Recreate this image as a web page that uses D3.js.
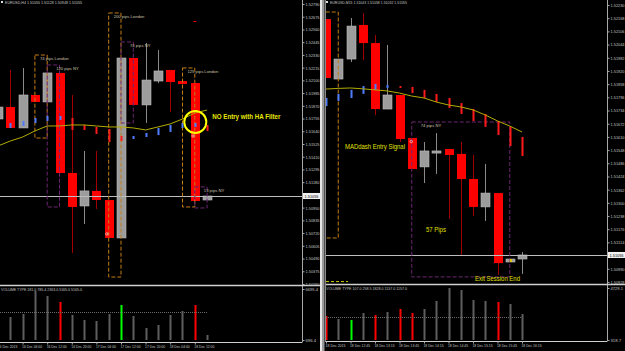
<!DOCTYPE html>
<html><head><meta charset="utf-8">
<script src="https://cdn.jsdelivr.net/npm/d3@7/dist/d3.min.js"></script>
<style>
html,body{margin:0;padding:0;background:#000;overflow:hidden}
svg{display:block}
text{font-family:"Liberation Sans",Arial,sans-serif}
</style></head>
<body><svg id="c" width="625" height="351"></svg>
<script>
// ---------------- LEFT CHART: EURUSD H4 ----------------
const leftTimes = ["15 Dec 20:00","16 Dec 00:00","16 Dec 04:00","16 Dec 08:00","16 Dec 12:00","16 Dec 16:00","16 Dec 20:00","17 Dec 00:00","17 Dec 04:00","17 Dec 08:00","17 Dec 12:00","17 Dec 16:00","17 Dec 20:00","18 Dec 00:00","18 Dec 04:00","18 Dec 08:00","18 Dec 12:00","18 Dec 16:00"];
const leftOpen  = [1.51751,1.51859,1.51670,1.51968,1.51905,1.52167,1.51263,1.50965,1.51101,1.51019,1.50676,1.52302,1.51878,1.52094,1.52194,1.52094,1.52076,1.51019];
const leftHigh  = [1.51859,1.52194,1.52212,1.51968,1.52167,1.52167,1.51968,1.51462,1.51462,1.51019,1.52302,1.52302,1.52438,1.52374,1.52194,1.52094,1.52076,1.51055];
const leftLow   = [1.51751,1.51670,1.51670,1.51905,1.51905,1.51263,1.50540,1.50802,1.50938,1.50676,1.50676,1.51878,1.51715,1.52076,1.51814,1.52067,1.51010,1.51019];
const leftClose = [1.51859,1.51670,1.51968,1.51905,1.52167,1.51263,1.50956,1.51101,1.51019,1.50676,1.52302,1.51878,1.52103,1.52185,1.52085,1.52067,1.51010,1.51055];
const leftMA    = [1.51507,1.51552,1.51588,1.51643,1.51688,1.51688,1.51697,1.51697,1.51688,1.51679,1.51679,1.51670,1.51652,1.51679,1.51706,1.51751,1.51805,1.51832];
const leftHATop = [null,1.51715,1.51733,1.51760,1.51778,1.51778,1.51760,1.51697,1.51679,1.51661,1.51597,1.51597,1.51625,1.51670,1.51697,1.51715,1.51715,1.51697];
const leftHABot = [null,1.51670,1.51688,1.51715,1.51733,1.51742,1.51652,1.51652,1.51616,1.51543,1.51552,1.51570,1.51588,1.51606,1.51634,1.51670,1.51679,1.51643];
const leftHADir = [null,"up","up","up","up","up","dn","dn","dn","dn","dn","up","up","up","up","up","up","dn"];
const leftVolume = [null,3400,3760,6460,5870,5170,3640,3050,2930,3760,4810,3520,2110,2460,3640,4110,4810,1290];
const leftVolType = ["n","n","n","n","n","r","n","n","n","n","g","n","n","n","n","n","r","n"];
const leftVolAvg = 3990;
const leftVolRange = [696.4, 6695.4];
const leftPriceTicks = [1.52790,1.52675,1.52560,1.52445,1.52330,1.52215,1.52100,1.51985,1.51870,1.51755,1.51640,1.51525,1.51410,1.51295,1.51180,1.51065,1.50950,1.50835,1.50720,1.50605,1.50490,1.50375,1.50260];
const leftTimeTickIdx = [0,2,4,6,8,10,12,14,16];
const leftTimeTickLabels = ["15 Dec 2015","16 Dec 04:00","16 Dec 12:00","16 Dec 20:00","17 Dec 04:00","17 Dec 12:00","17 Dec 20:00","18 Dec 04:00","18 Dec 12:00"];
const leftSessStart = [3,4,9,10,15,16];
const leftSessEnd   = [4,5,10,11,16,17];
const leftSessHigh  = [1.52329,1.52239,1.52709,1.52447,1.52212,1.51137];
const leftSessLow   = [1.51579,1.50956,1.50323,1.51715,1.50956,1.50947];
const leftSessKind  = ["London","NY","London","NY","London","NY"];
const leftSessLabel = ["74 pips London","120 pips NY","200 pips London","74 pips NY","125 pips London","13 pips NY"];
const leftHeader = "EURUSD,H4  1.51055 1.51128 1.50948 1.51055";
const leftVolHeader = "VOLUME TYPE 181.0 785.4 2363.0 5165.0 5165.0";

// ---------------- RIGHT CHART: EURUSD M15 ----------------
const rightTimes = ["18 Dec 12:15","18 Dec 12:30","18 Dec 12:45","18 Dec 13:00","18 Dec 13:15","18 Dec 13:30","18 Dec 13:45","18 Dec 14:00","18 Dec 14:15","18 Dec 14:30","18 Dec 14:45","18 Dec 15:00","18 Dec 15:15","18 Dec 15:30","18 Dec 15:45","18 Dec 16:00","18 Dec 16:15"];
const rightOpen  = [1.52164,1.51882,1.51976,1.52136,1.52051,1.51741,1.51807,1.51605,1.51469,1.51534,1.51553,1.51530,1.51412,1.51281,1.51346,1.51022,1.51036];
const rightHigh  = [1.52164,1.51976,1.52169,1.52192,1.52089,1.52042,1.51807,1.51605,1.51586,1.51628,1.51553,1.51586,1.51525,1.51483,1.51346,1.51036,1.51069];
const rightLow   = [1.51887,1.51882,1.51962,1.51971,1.51713,1.51741,1.51586,1.51459,1.51393,1.51436,1.51224,1.51055,1.51238,1.51215,1.50961,1.51022,1.50966];
const rightClose = [1.51887,1.51976,1.52131,1.52051,1.51741,1.51807,1.51600,1.51459,1.51544,1.51544,1.51525,1.51412,1.51281,1.51346,1.51017,1.51036,1.51055];
const rightMA    = [1.51835,1.51838,1.51840,1.51836,1.51831,1.51826,1.51816,1.51802,1.51793,1.51774,1.51760,1.51751,1.51737,1.51713,1.51685,1.51661,1.51633];
const rightHATop = [1.51793,1.51812,1.51831,1.51849,1.51859,1.51854,1.51849,1.51845,1.51831,1.51812,1.51793,1.51769,1.51741,1.51718,1.51685,1.51657,1.51610];
const rightHABot = [1.51755,1.51779,1.51793,1.51812,1.51831,1.51840,1.51840,1.51816,1.51793,1.51774,1.51746,1.51718,1.51685,1.51657,1.51619,1.51567,1.51520];
const rightHADir = ["up","up","up","up","up","up","dn","dn","dn","dn","dn","dn","dn","dn","dn","dn","dn"];
const rightVolume = [2350,2100,2020,2610,2440,2690,2950,2610,2950,3630,4730,4560,3710,3630,3540,3370,2520];
const rightVolType = ["r","n","g","n","r","n","r","r","n","n","n","n","n","n","r","n","n"];
const rightVolAvg = 2230;
const rightVolRange = [318.7, 4729.1];
const rightPriceTicks = [1.52230,1.52168,1.52106,1.52044,1.51982,1.51920,1.51858,1.51796,1.51734,1.51672,1.51610,1.51548,1.51486,1.51424,1.51362,1.51300,1.51238,1.51176,1.51114,1.51052,1.50990,1.50928];
const rightTimeTickIdx = [0,2,4,6,8,10,12,14,16];
const rightTimeTickLabels = ["18 Dec 2015","18 Dec 12:45","18 Dec 13:15","18 Dec 13:45","18 Dec 14:15","18 Dec 14:45","18 Dec 15:15","18 Dec 15:45","18 Dec 16:15"];
const rightSessStart = [-1,7];
const rightSessEnd   = [1,15];
const rightSessHigh  = [1.52197,1.51680];
const rightSessLow   = [1.51135,1.50952];
const rightSessKind  = ["London","NY"];
const rightSessLabel = ["","74 pips NY"];
const rightHeader = "EURUSD,M15  1.51043 1.51058 1.51032 1.51055";
const rightVolHeader = "VOLUME TYPE 107.0 258.5 1828.0 1157.0 1157.0";

const currentPrice = 1.51055;

// ---------------- DRAWING ----------------
const svg = d3.select("#c");
const defs = svg.append("defs");
svg.append("rect").attr("width",625).attr("height",351).attr("fill","#000");

const C = {up:"#9c9c9c", upStroke:"#bdbdbd", dn:"#ff0000", upWick:"#8a8a8a", dnWick:"#a00000",
  haUp:"#4f7dff", haDn:"#ff1a1a", ma:"#b4ac00", london:"#c47e14", ny:"#6c2672",
  axis:"#a8a8a8", txt:"#c4c4c4", sep:"#cfcfcf", volN:"#5e5e5e", volR:"#ff0000", volG:"#00ff00", lbl:"#cfc4ac"};

function fitText(sel, w){ return sel.attr("textLength", w).attr("lengthAdjust","spacingAndGlyphs"); }

function drawPanel(o){
  const n = o.open.length;
  const x = d3.scaleLinear().domain([0,n-1]).range(o.xRange);
  const y = d3.scaleLinear().domain(o.priceDomain).range(o.priceRange);
  const v = d3.scaleLinear().domain(o.volRange).range([o.volBot, o.volTop]).clamp(true);
  const idx = d3.range(n);
  const g = svg.append("g");

  defs.append("clipPath").attr("id",o.id+"m").append("rect")
    .attr("x",o.x0).attr("y",0).attr("width",o.x1-o.x0).attr("height",o.mainBot);
  defs.append("clipPath").attr("id",o.id+"v").append("rect")
    .attr("x",o.x0).attr("y",o.sepY+1).attr("width",o.x1-o.x0).attr("height",o.volBot-o.sepY);

  const m = g.append("g").attr("clip-path",`url(#${o.id}m)`);
  const bw = 9;
  const isUp = i => o.close[i] >= o.open[i];

  m.append("g").selectAll("line").data(idx).join("line")
    .attr("x1",i=>Math.round(x(i))+0.5).attr("x2",i=>Math.round(x(i))+0.5)
    .attr("y1",i=>y(o.high[i])).attr("y2",i=>y(o.low[i]))
    .attr("stroke",i=>isUp(i)?C.upWick:C.dnWick).attr("stroke-width",1);
  m.append("g").selectAll("rect").data(idx).join("rect")
    .attr("x",i=>Math.round(x(i))+0.5-bw/2).attr("width",bw)
    .attr("y",i=>y(Math.max(o.open[i],o.close[i])))
    .attr("height",i=>Math.max(1.5,Math.abs(y(o.open[i])-y(o.close[i]))))
    .attr("fill",i=>isUp(i)?C.up:C.dn)
    .attr("stroke",i=>isUp(i)?C.upStroke:"none").attr("stroke-width",0.6);

  m.append("line").attr("x1",o.x0).attr("x2",o.x1)
    .attr("y1",Math.round(y(currentPrice))+0.5).attr("y2",Math.round(y(currentPrice))+0.5)
    .attr("stroke","#bdbdbd").attr("stroke-width",1);

  const sIdx = d3.range(o.sessStart.length);
  m.append("g").selectAll("rect").data(sIdx).join("rect")
    .attr("x",i=>x(o.sessStart[i])).attr("width",i=>x(o.sessEnd[i])-x(o.sessStart[i]))
    .attr("y",i=>y(o.sessHigh[i])).attr("height",i=>y(o.sessLow[i])-y(o.sessHigh[i]))
    .attr("fill","none").attr("stroke",i=>o.sessKind[i]==="London"?C.london:C.ny)
    .attr("stroke-width",1).attr("stroke-dasharray","4,2");
  m.append("g").selectAll("text").data(sIdx.filter(i=>o.sessLabel[i])).join("text")
    .attr("x",i=>x(o.sessStart[i])+(o.sessKind[i]==="London"?5:9))
    .attr("y",i=>y(o.sessHigh[i])+4.6)
    .attr("font-size",4.4).attr("fill",C.lbl)
    .text(i=>o.sessLabel[i])
    .each(function(i){ fitText(d3.select(this), o.sessLabel[i].length*2.05); });

  m.append("g").selectAll("rect").data(idx.filter(i=>o.haTop[i]!=null)).join("rect")
    .attr("x",i=>Math.round(x(i))-0.5).attr("width",2)
    .attr("y",i=>y(o.haTop[i])).attr("height",i=>Math.max(1.5,y(o.haBot[i])-y(o.haTop[i])))
    .attr("fill",i=>o.haDir[i]==="up"?C.haUp:C.haDn);

  m.append("path").datum(idx)
    .attr("d",d3.line().x(i=>x(i)).y(i=>y(o.ma[i])))
    .attr("fill","none").attr("stroke",C.ma).attr("stroke-width",1);

  o.extra && o.extra(m, x, y);

  const vg = g.append("g").attr("clip-path",`url(#${o.id}v)`);
  vg.selectAll("rect").data(idx.filter(i=>o.vol[i]!=null)).join("rect")
    .attr("x",i=>Math.round(x(i))-0.5).attr("width",2)
    .attr("y",i=>v(o.vol[i])).attr("height",i=>o.volBot-v(o.vol[i]))
    .attr("fill",i=>o.volType[i]==="r"?C.volR:o.volType[i]==="g"?C.volG:C.volN);
  vg.append("line").attr("x1",x(0)).attr("x2",x(n-1))
    .attr("y1",Math.round(v(o.volAvg))+0.5).attr("y2",Math.round(v(o.volAvg))+0.5)
    .attr("stroke","#6a6a6a").attr("stroke-dasharray","1,1");
  g.append("text").attr("x",o.x0+1).attr("y",o.sepY+5.5).attr("font-size",4.4).attr("fill",C.txt)
    .text(o.volHeader).call(fitText, 81);

  g.append("line").attr("x1",o.x1+0.5).attr("x2",o.x1+0.5).attr("y1",0).attr("y2",o.bottomY)
    .attr("stroke",C.axis);
  g.append("line").attr("x1",o.x0).attr("x2",o.x1+18).attr("y1",o.sepY).attr("y2",o.sepY)
    .attr("stroke",C.sep).attr("stroke-width",1.5);
  g.append("line").attr("x1",o.x0).attr("x2",o.x1).attr("y1",o.bottomY).attr("y2",o.bottomY)
    .attr("stroke",C.sep).attr("stroke-width",1);

  const pa = g.append("g").attr("transform",`translate(${o.x1+0.5},0)`)
    .call(d3.axisRight(y).tickValues(o.priceTicks).tickFormat(d3.format(".5f")).tickSize(2).tickPadding(1).tickSizeOuter(0));
  pa.select(".domain").remove();
  pa.selectAll("line").attr("stroke",C.axis);
  pa.selectAll("text").attr("fill",C.txt).attr("font-size",4.4).attr("font-family","Liberation Sans").call(fitText,14);

  const cy = y(currentPrice);
  g.append("rect").attr("x",o.x1+1).attr("y",cy-3).attr("width",17).attr("height",6).attr("fill","#f2f2f2");
  g.append("text").attr("x",o.x1+2.5).attr("y",cy+1.8).attr("font-size",4.4).attr("fill","#000")
    .text(d3.format(".5f")(currentPrice)).call(fitText,14);

  const va = g.append("g").attr("transform",`translate(${o.x1+0.5},0)`)
    .call(d3.axisRight(v).tickValues(o.volRange).tickFormat(d3.format(".1f")).tickSize(2).tickPadding(1).tickSizeOuter(0));
  va.select(".domain").remove();
  va.selectAll("line").attr("stroke",C.axis);
  va.selectAll("text").attr("fill",C.txt).attr("font-size",4.4).attr("font-family","Liberation Sans")
    .each(function(){ const t=d3.select(this); fitText(t, t.text().length*2.1); });

  const ta = g.append("g").attr("transform",`translate(0,${o.bottomY})`)
    .call(d3.axisBottom(x).tickValues(o.timeTickIdx).tickFormat((d,k)=>o.timeTickLabels[k]).tickSize(2).tickPadding(0).tickSizeOuter(0));
  ta.select(".domain").remove();
  ta.selectAll("line").attr("stroke",C.axis);
  ta.selectAll("text").attr("fill",C.txt).attr("font-size",4.4).attr("font-family","Liberation Sans")
    .attr("text-anchor","start").attr("x",-1).call(fitText,20);

  g.append("rect").attr("x",o.x0+1).attr("y",1).attr("width",2).attr("height",2).attr("fill","#ddd");
  g.append("text").attr("x",o.x0+5).attr("y",3.8).attr("font-size",4.4).attr("fill",C.txt)
    .text(o.header).call(fitText,77);
  return {x,y};
}

drawPanel({
  id:"L", x0:0, x1:302, xRange:[-2,207.1], priceDomain:[1.50260,1.52790], priceRange:[284,4],
  mainBot:284, sepY:285.5, volTop:289, volBot:340, bottomY:342.5,
  open:leftOpen, high:leftHigh, low:leftLow, close:leftClose, ma:leftMA,
  haTop:leftHATop, haBot:leftHABot, haDir:leftHADir,
  vol:leftVolume, volType:leftVolType, volAvg:leftVolAvg, volRange:leftVolRange,
  priceTicks:leftPriceTicks, timeTickIdx:leftTimeTickIdx, timeTickLabels:leftTimeTickLabels,
  sessStart:leftSessStart, sessEnd:leftSessEnd, sessHigh:leftSessHigh, sessLow:leftSessLow,
  sessKind:leftSessKind, sessLabel:leftSessLabel, header:leftHeader, volHeader:leftVolHeader,
  extra:(m,x,y)=>{
    m.append("text").attr("x",x(-0.5)).attr("y",y(1.52430)).attr("text-anchor","end")
      .attr("font-size",4.4).attr("fill",C.lbl).text("pips NY");
    m.append("rect").attr("x",x(16)-1.5).attr("y",y(1.52636)).attr("width",3).attr("height",1).attr("fill","#ff0000");
    [[15.85,1.51597],[8.85,1.50712]].forEach(p=>{
      m.append("circle").attr("cx",x(p[0])).attr("cy",y(p[1])).attr("r",1.2)
        .attr("fill","none").attr("stroke","#fff").attr("stroke-width",0.6);
    });
    m.append("circle").attr("cx",x(16)+0.5).attr("cy",y(1.51724)).attr("r",11)
      .attr("fill","none").attr("stroke","#ffff00").attr("stroke-width",2);
    m.append("text").attr("x",x(16)+17.5).attr("y",y(1.51755)).attr("font-size",7).attr("font-weight","bold")
      .attr("fill","#e8e800").text("NO Entry with HA Filter").call(fitText,68);
  }
});

drawPanel({
  id:"R", x0:325, x1:607, xRange:[326,522], priceDomain:[1.50928,1.52230], priceRange:[282,5],
  mainBot:283.5, sepY:284.5, volTop:288, volBot:340, bottomY:341.5,
  open:rightOpen, high:rightHigh, low:rightLow, close:rightClose, ma:rightMA,
  haTop:rightHATop, haBot:rightHABot, haDir:rightHADir,
  vol:rightVolume, volType:rightVolType, volAvg:rightVolAvg, volRange:rightVolRange,
  priceTicks:rightPriceTicks, timeTickIdx:rightTimeTickIdx, timeTickLabels:rightTimeTickLabels,
  sessStart:rightSessStart, sessEnd:rightSessEnd, sessHigh:rightSessHigh, sessLow:rightSessLow,
  sessKind:rightSessKind, sessLabel:rightSessLabel, header:rightHeader, volHeader:rightVolHeader,
  extra:(m,x,y)=>{
    m.append("circle").attr("cx",x(7)-0.5).attr("cy",y(1.51588)).attr("r",1.2)
      .attr("fill","none").attr("stroke","#fff").attr("stroke-width",0.6);
    m.append("rect").attr("x",x(15)).attr("y",y(1.51036)).attr("width",2).attr("height",3).attr("fill","#e8d000");
    m.append("line").attr("x1",x(0)).attr("x2",x(1.8)).attr("y1",y(1.50930)).attr("y2",y(1.50930))
      .attr("stroke","#c8c800").attr("stroke-dasharray","3,2");
    m.append("text").attr("x",x(1.55)).attr("y",y(1.51551)).attr("font-size",6.5)
      .attr("fill","#e0e000").text("MADdash Entry Signal").call(fitText,60);
    m.append("text").attr("x",x(8.16)).attr("y",y(1.51163)).attr("font-size",6.5)
      .attr("fill","#e0e000").text("57 Pips").call(fitText,20);
    m.append("text").attr("x",x(12.16)).attr("y",y(1.50935)).attr("font-size",6.5)
      .attr("fill","#e0e000").text("Exit Session End").call(fitText,45);
  }
});

svg.append("rect").attr("x",320).attr("y",0).attr("width",2).attr("height",351).attr("fill","#e6e6e6");
svg.append("rect").attr("x",322).attr("y",0).attr("width",2.5).attr("height",351).attr("fill","#9a9a9a");
svg.append("line").attr("x1",325.5).attr("x2",325.5).attr("y1",0).attr("y2",341.5).attr("stroke","#8a8a8a");
</script></body></html>
